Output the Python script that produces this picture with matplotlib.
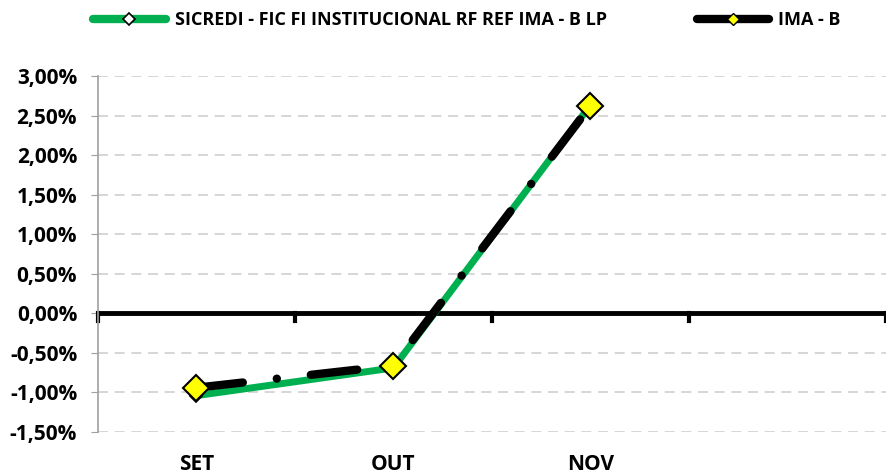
import matplotlib.pyplot as plt
import numpy as np
from matplotlib.lines import Line2D
from matplotlib.ticker import FuncFormatter, MultipleLocator

categories = ["SET", "OUT", "NOV", ""]
fund_values = [-1.04, -0.69, 2.63]
ima_values = [-0.94, -0.66, 2.62]
fund_label = "SICREDI - FIC FI INSTITUCIONAL RF REF IMA - B LP"
ima_label = "IMA - B"

plt.rcParams["font.family"] = ["Open Sans", "DejaVu Sans"]

fig = plt.figure(figsize=(8.86, 4.76), dpi=100)
ax = fig.add_axes([0.1106, 0.0924, 0.889, 0.748])

x = np.arange(len(fund_values))

ax.plot(x, fund_values, color="#00b050", lw=5, solid_capstyle="round",
        marker="D", ms=6, mfc="white", mec="black", mew=1.2, zorder=3)
ax.plot(x, ima_values, color="black", lw=6, dashes=(5.6, 4.1, 0.01, 4.1),
        dash_capstyle="round", marker="D", ms=13, mfc="#ffff00", mec="black",
        mew=1.5, zorder=4)

ax.set_xlim(-0.5, len(categories) - 0.5)
ax.set_ylim(-1.5, 3.0)
ax.yaxis.set_major_locator(MultipleLocator(0.5))
ax.yaxis.set_major_formatter(FuncFormatter(lambda v, p: f"{v:.2f}%".replace(".", ",")))
ax.grid(axis="y", color="#d0d0d0", ls=(0, (6, 4)), lw=1.2)
ax.set_axisbelow(True)

for side in ["top", "right", "bottom"]:
    ax.spines[side].set_visible(False)
ax.spines["left"].set_color("#a0a0a0")
ax.spines["left"].set_linewidth(1.2)

ax.tick_params(axis="y", length=5, color="#a0a0a0", labelsize=15, pad=10)
for lab in ax.get_yticklabels():
    lab.set_fontweight("bold")

# zero line and category boundary ticks
ax.axhline(0, color="black", lw=3.5, zorder=2)
ax.set_xticks(np.arange(len(categories) + 1) - 0.5)
ax.set_xticklabels([])
ax.tick_params(axis="x", length=0)
for b in np.arange(len(categories) + 1) - 0.5:
    ax.plot([b, b], [0, -0.1], color="black", lw=3, zorder=2, clip_on=False)

for i, cat in enumerate(categories):
    ax.text(i, -0.09, cat, transform=ax.get_xaxis_transform(), ha="center",
            va="center", fontsize=15, fontweight="bold")

handles = [
    Line2D([], [], color="#00b050", lw=6, solid_capstyle="round",
           marker="D", ms=6, mfc="white", mec="black", mew=1.2),
    Line2D([], [], color="black", lw=6, solid_capstyle="round",
           marker="D", ms=6, mfc="#ffff00", mec="black", mew=1.0),
]
fig.legend(handles, [fund_label, ima_label], loc="center",
           bbox_to_anchor=(0.527, 1 - 20 / 476), ncol=2, frameon=False,
           handlelength=4.0, handletextpad=0.5, columnspacing=5.0,
           prop={"weight": "bold", "size": 13})

fig.savefig("out.png", dpi=100)
